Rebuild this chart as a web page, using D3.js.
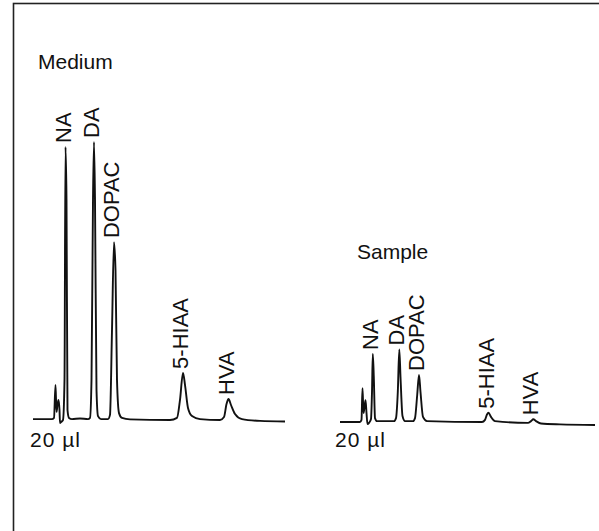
<!DOCTYPE html>
<html>
<head>
<meta charset="utf-8">
<script src="https://cdn.jsdelivr.net/npm/d3@7"></script>
<style>
  body { margin: 0; background: #fff; }
  text { font-family: "Liberation Sans", Arial, sans-serif; fill: #111; }
</style>
</head>
<body>
<svg width="599" height="531"></svg>
<script>
// chromatogram traces, [retention time, detector signal]
var mediumTrace = [
    [0, 0.3], [1.9, 0.3], [2.1, 0.7], [2.25, 11.7], [2.35, 2.7], [2.45, 5], [2.55, 6.7],
    [2.65, 3.3], [2.7, -1], [2.8, -0.7], [3.0, 0], [3.15, 13.3], [3.25, 91], [3.35, 73.3],
    [3.45, 3.3], [3.6, 0.7], [3.9, 0.3], [4.7, 0.5], [5.5, 0.3], [5.7, 0.7], [5.85, 13.3],
    [6.0, 73.3], [6.1, 92.7], [6.2, 73.3], [6.35, 10], [6.5, 1.3], [6.8, 0.3], [7.5, 0.3],
    [7.7, 1.7], [7.9, 30], [8.1, 59.3], [8.25, 50], [8.4, 13.3], [8.6, 2.3], [8.9, 0.7],
    [9.7, 0.2], [13.7, 0], [14.4, 0.7], [14.7, 6.7], [15.0, 15.7], [15.2, 11.7], [15.5, 4],
    [15.9, 1.3], [16.7, 0.3], [18.7, 0], [19.1, 1], [19.35, 5.3], [19.55, 7], [19.8, 5],
    [20.2, 2], [20.9, 0.3], [22.7, -0.3], [25.2, -0.5]
];
var sampleTrace = [
    [0, 0], [2.0, 0], [2.15, 0.7], [2.25, 11.3], [2.35, 3], [2.45, 5], [2.55, 7.3],
    [2.65, 3], [2.75, -0.7], [2.9, -0.3], [3.1, 1], [3.2, 10], [3.28, 22.7], [3.38, 15],
    [3.5, 1.3], [3.7, 0.3], [4.5, 0.3], [5.4, 0.3], [5.6, 1.3], [5.78, 10], [5.93, 24.2],
    [6.05, 15], [6.25, 2], [6.5, 0.3], [7.3, 0.3], [7.5, 1.3], [7.72, 9], [7.9, 15.7],
    [8.05, 10], [8.3, 1.7], [8.7, 0.3], [14.2, 0], [14.5, 0.7], [14.7, 2.5], [14.85, 3.1],
    [15.1, 1.7], [15.5, 0.3], [18.8, -0.3], [19.1, 0.3], [19.33, 0.9], [19.6, 0.3],
    [20.1, -0.5], [22, -0.8], [25.5, -1]
];

var compounds = ["NA", "DA", "DOPAC", "5-HIAA", "HVA"];
var mediumPeaks = [[3.25, 91], [6.1, 92.7], [8.1, 59.3], [15.0, 15.7], [19.55, 7]];
var samplePeaks = [[3.28, 22.7], [5.93, 24.2], [7.9, 15.7], [14.85, 3.1], [19.33, 0.9]];

var panelTitles = ["Medium", "Sample"];
var volumeLabel = "20 \u00b5l";

var svg = d3.select("svg");

// frame (cut off at right / bottom in the original scan)
svg.append("rect")
    .attr("x", 13.5).attr("y", 3.5)
    .attr("width", 700).attr("height", 700)
    .attr("fill", "none")
    .attr("stroke", "#222")
    .attr("stroke-width", 1.6);

var panels = [
    { title: panelTitles[0], trace: mediumTrace, peaks: mediumPeaks,
      x: d3.scaleLinear().domain([0, 25.2]).range([33, 285]),
      y: d3.scaleLinear().domain([0, 100]).range([420, 120]),
      titleX: 38, titleY: 69, volX: 30 },
    { title: panelTitles[1], trace: sampleTrace, peaks: samplePeaks,
      x: d3.scaleLinear().domain([0, 25.5]).range([340, 595]),
      y: d3.scaleLinear().domain([0, 100]).range([422, 122]),
      titleX: 357, titleY: 259, volX: 335 }
];

var line = d3.line().curve(d3.curveMonotoneX);

panels.forEach(function (p) {
    var g = svg.append("g");

    line.x(function (d) { return p.x(d[0]); })
        .y(function (d) { return p.y(d[1]); });

    g.append("path")
        .datum(p.trace)
        .attr("d", line)
        .attr("fill", "none")
        .attr("stroke", "#111")
        .attr("stroke-width", 1.9)
        .attr("stroke-linejoin", "round");

    g.selectAll("text.peak")
        .data(p.peaks)
        .enter().append("text")
        .attr("class", "peak")
        .attr("transform", function (d) {
            return "translate(" + (p.x(d[0]) + 5) + "," + (p.y(d[1]) - 4) + ") rotate(-90)";
        })
        .attr("font-size", 22)
        .text(function (d, i) { return compounds[i]; });

    g.append("text")
        .attr("x", p.titleX).attr("y", p.titleY)
        .attr("font-size", 21)
        .text(p.title);

    g.append("text")
        .attr("x", p.volX).attr("y", 447)
        .attr("font-size", 21)
        .attr("letter-spacing", 1)
        .text(volumeLabel);
});
</script>
</body>
</html>
